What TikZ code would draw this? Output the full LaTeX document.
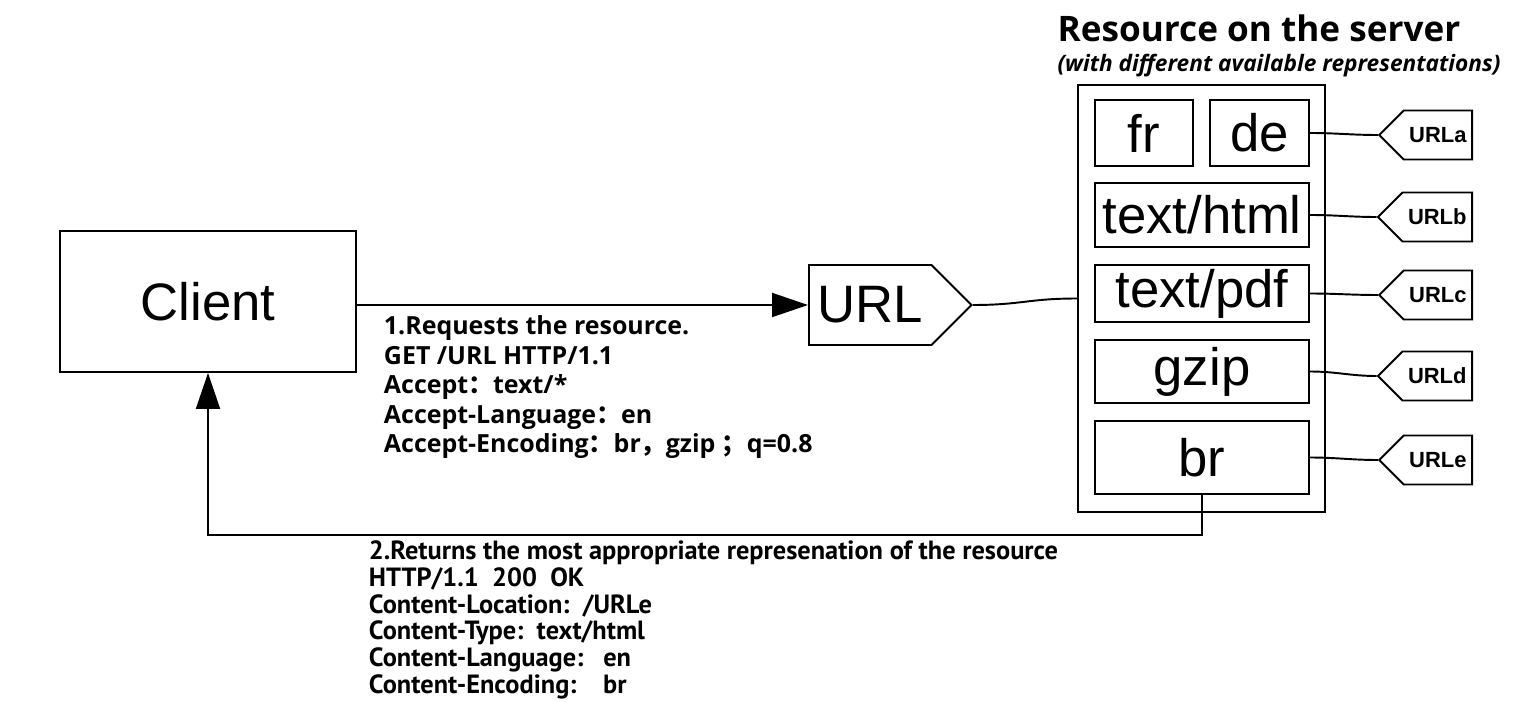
\documentclass[tikz,border=0pt]{standalone}
\usepackage{fontspec}
\setmainfont{Liberation Sans}
\newfontfamily\notefont{Open Sans}
\newfontfamily\respfont{PT Sans}
\newfontfamily\cjk{Noto Sans CJK SC}
\usetikzlibrary{arrows.meta,shapes.symbols,positioning}

\newcommand{\fw}[1]{{\cjk\bfseries #1}}

\begin{document}
\begin{tikzpicture}[x=0.02cm, y=-0.02cm,
            every node/.style={inner sep=0pt},
            box/.style={draw, line width=1.1pt, font=\fontsize{30}{36}\selectfont},
            tag/.style={draw, line width=1.1pt, shape=signal, signal pointer angle=90},
            note/.style={anchor=north west, align=left},
            every path/.style={line width=1.1pt},
            arr/.style={-{Triangle[length=0.72cm, width=0.48cm]}}]
        \useasboundingbox (0,0) rectangle (1530,702);
        % client and the requested url
        \node[box, minimum width=5.92cm, minimum height=2.82cm] (client) at (208,301.5) {Client};
        \node[box, tag, signal to=east, inner xsep=0.17cm, minimum height=1.6cm, anchor=west] (url) at (808,305) {URL};
        % server with its representations
        \node[box, minimum width=4.94cm, minimum height=8.54cm] (srv) at (1201.5,298.5) {};
        \node[box, minimum width=1.96cm, minimum height=1.32cm] (fr) at (1144,133) {fr};
        \node[box, minimum width=1.98cm, minimum height=1.32cm] (de) at (1259.5,133) {de};
        \node[box, minimum width=4.28cm, minimum height=1.28cm] (html) at (1202,215) {text/html};
        \node[box, minimum width=4.28cm, minimum height=1.14cm] (pdf) at (1202,293.5) {text/pdf};
        \node[box, minimum width=4.28cm, minimum height=1.26cm] (gzip) at (1202,371.5) {gzip};
        \node[box, minimum width=4.28cm, minimum height=1.46cm] (br) at (1202,457.5) {br};
        \foreach \n/\y/\src in {a/135/de, b/217/html, c/295/pdf, d/376/gzip, e/460/br} {
            \node[tag, signal to=west, inner xsep=0.11cm, minimum height=0.98cm, anchor=east,
                  font=\bfseries\fontsize{12.5}{15}\selectfont] (url\n) at (1473,\y) {URL\n};
            \draw (\src.east) to[out=0, in=180] (url\n.west);
        }
        \node[font=\notefont\bfseries\fontsize{20}{24}\selectfont] (title) at (1259,28) {Resource on the server};
        \node[font=\notefont\bfseries\itshape\fontsize{12.9}{16}\selectfont] (sub) at (1279,66) {(with different available representations)};
        % request and response
        \draw[arr] (client.east |- url.west) -- (url.west);
        \draw (url.east) to[out=0, in=180, looseness=1.2] (srv.west);
        \draw[arr] (br.south) -- (br.south |- 0,535) -| (client.south);
        \node[note, font=\notefont\bfseries\fontsize{14.2}{16.8}\selectfont] (req) at (383,315)
            {1.Requests the resource.\\
             GET /URL HTTP/1.1\\
             Accept\fw{：}text/*\\
             Accept-Language\fw{：}en\\
             Accept-Encoding\fw{：}br\fw{，}gzip \fw{；}q=0.8};
        \node[note, font=\respfont\bfseries\fontsize{15}{15.2}\selectfont] (resp) at (368,540)
            {2.Returns the most appropriate represenation of the resource\\
             HTTP/1.1\ \ 200\ \ OK\\
             Content-Location:\ \ /URLe\\
             Content-Type:\ \ text/html\\
             Content-Language:\ \ \ en\\
             Content-Encoding:\ \ \ \ br};
\end{tikzpicture}
\end{document}
